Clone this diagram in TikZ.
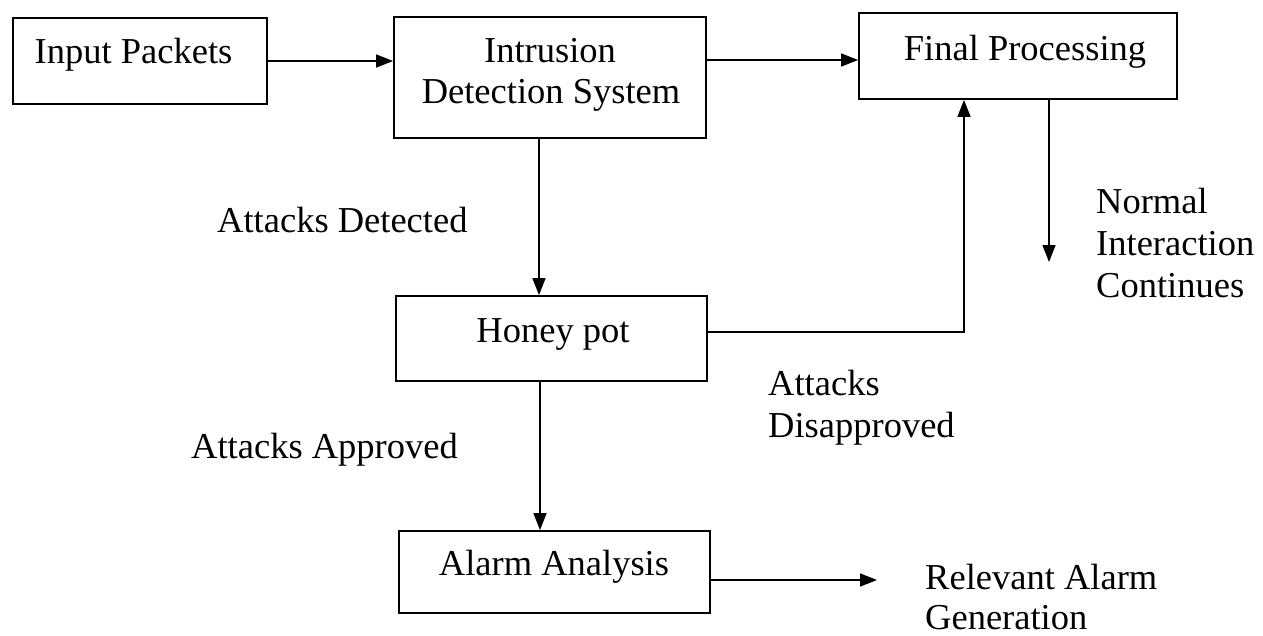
\documentclass[tikz,border=0pt]{standalone}
\usepackage{fontspec}
\setmainfont{Liberation Serif}
\usetikzlibrary{arrows.meta}
\begin{document}
\begin{tikzpicture}[x=1pt,y=-1pt,
  box/.style={draw,line width=1.8pt,inner sep=0pt},
  txt/.style={inner sep=0pt,font=\fontsize{36.5}{42}\selectfont},
  arr/.style={line width=1.5pt,-{Triangle[length=17pt,width=13pt]}}]
\useasboundingbox (0,0) rectangle (1263,635);

% blocks
\node[box,minimum width=254pt,minimum height=86pt] (in) at (140,61) {};
\node[box,minimum width=312pt,minimum height=121pt] (ids) at (550,77.5) {};
\node[box,minimum width=318pt,minimum height=86pt] (fp) at (1018,56) {};
\node[box,minimum width=311pt,minimum height=85pt] (hp) at (551.5,338.5) {};
\node[box,minimum width=311pt,minimum height=82pt] (aa) at (554.5,572) {};

% block captions
\node[txt,anchor=base] (tin) at (133.5,63) {Input Packets};
\node[txt,anchor=base] (tids1) at (550,62) {Intrusion};
\node[txt,anchor=base] (tids2) at (551,103) {Detection System};
\node[txt,anchor=base] (tfp) at (1025,60) {Final Processing};
\node[txt,anchor=base] (thp) at (553,342) {Honey pot};
\node[txt,anchor=base] (taa) at (554,575) {Alarm Analysis};

% edge captions
\node[txt,anchor=base west] (ldet) at (217,232) {Attacks Detected};
\node[txt,anchor=base west] (lapp) at (191,458) {Attacks Approved};
\node[txt,anchor=north west,align=left] (ldis) at (768,370) {Attacks\\Disapproved};
\node[txt,anchor=north west,align=left] (lnorm) at (1096,188) {Normal\\Interaction\\Continues};
\node[txt,anchor=north west,align=left,font=\fontsize{36.5}{40}\selectfont] (lrel) at (925,564) {Relevant Alarm\\Generation};

% connectors
\draw[arr] (in.east) -- (in.east -| ids.west);

\coordinate (a1) at ([yshift=-4pt]fp.west);
\draw[arr] (a1 -| ids.east) -- (a1);

\coordinate (a2) at ([xshift=-11pt]ids.south);
\draw[arr] (a2) -- (a2 |- hp.north);

\coordinate (a3) at ([xshift=-11.5pt]hp.south);
\draw[arr] (a3) -- (a3 |- aa.north);

\coordinate (a4) at ([yshift=6.5pt]hp.east);
\coordinate (a5) at ([xshift=-54pt]fp.south);
\draw[arr] (a4) -| (a5);

\coordinate (a6) at ([xshift=31pt]fp.south);
\coordinate (nend) at (1049,262);
\draw[arr] (a6) -- (nend);

\coordinate (a7) at ([yshift=-8pt]aa.east);
\coordinate (rend) at (877,580);
\draw[arr] (a7) -- (rend);
\end{tikzpicture}
\end{document}
